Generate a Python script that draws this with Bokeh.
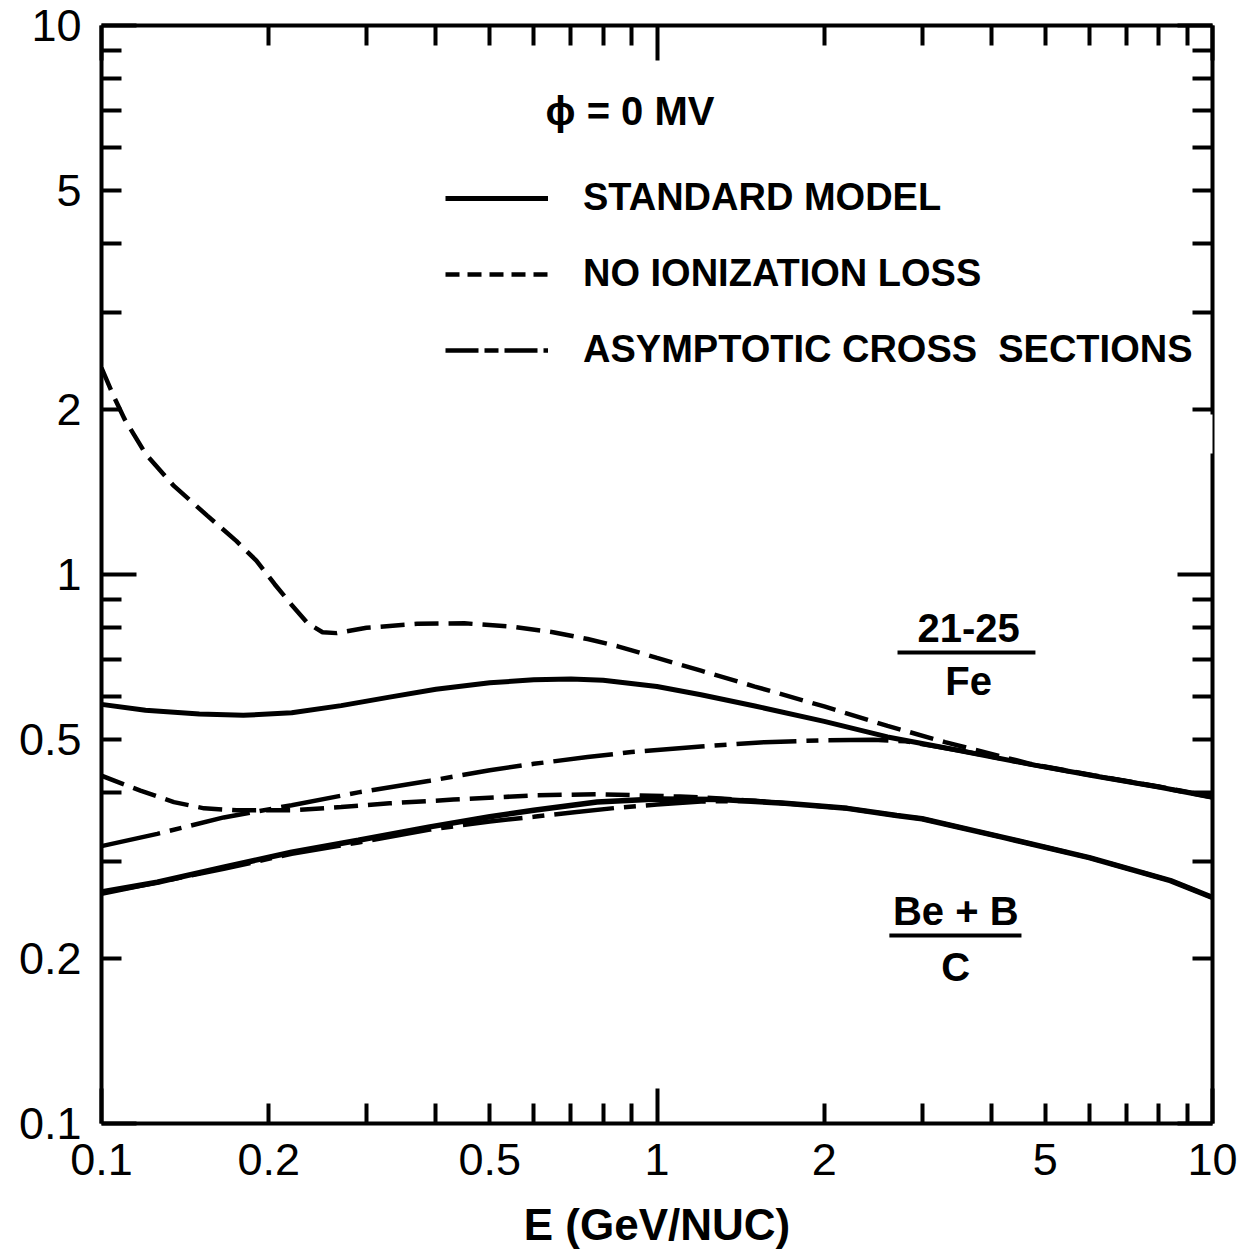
from bokeh.plotting import figure
from bokeh.models import (Range1d, LogAxis, FixedTicker, CustomJSTickFormatter, Label,
                          Legend, LegendItem, BoxAnnotation)
from bokeh.embed import file_html
from bokeh.resources import INLINE

# ---------------- data ----------------
# 21-25 / Fe
FE_STD_E = [0.1, 0.12, 0.15, 0.18, 0.22, 0.27, 0.33, 0.40, 0.50, 0.60, 0.70, 0.80,
            1.0, 1.2, 1.5, 2.0, 2.6, 3.5, 4.7, 6.1, 8.0, 10.0]
FE_STD_R = [0.580, 0.566, 0.557, 0.554, 0.560, 0.577, 0.598, 0.618, 0.635, 0.643, 0.645, 0.642,
            0.625, 0.604, 0.576, 0.540, 0.506, 0.478, 0.451, 0.430, 0.410, 0.393]

FE_NOION_E = [0.1, 0.105, 0.11, 0.12, 0.135, 0.155, 0.175, 0.19, 0.205, 0.22, 0.235, 0.25,
              0.265, 0.30, 0.37, 0.45, 0.55, 0.65, 0.75, 0.85, 1.0, 1.2, 1.5, 2.0, 2.6, 3.3,
              4.7, 6.1, 8.0, 10.0]
FE_NOION_R = [2.38, 2.12, 1.92, 1.66, 1.45, 1.28, 1.15, 1.06, 0.96, 0.88, 0.815, 0.785,
              0.782, 0.800, 0.813, 0.815, 0.803, 0.785, 0.763, 0.740, 0.705, 0.668, 0.625, 0.575, 0.530, 0.495,
              0.452, 0.431, 0.411, 0.394]

FE_ASYM_E = [0.1, 0.126, 0.166, 0.22, 0.29, 0.39, 0.5, 0.6, 0.75, 0.9, 1.2, 1.56, 2.0, 2.45, 2.8,
             3.5, 4.7, 6.1, 8.0, 10.0]
FE_ASYM_R = [0.320, 0.337, 0.361, 0.380, 0.401, 0.421, 0.440, 0.452, 0.465, 0.475, 0.486, 0.495, 0.499, 0.500, 0.497,
             0.478, 0.451, 0.430, 0.410, 0.393]

# Be+B / C
BC_STD_E = [0.1, 0.126, 0.166, 0.22, 0.29, 0.39, 0.5, 0.6, 0.78, 1.0, 1.3, 1.7, 2.2, 2.7, 3.0,
            4.2, 6.0, 8.4, 10.0]
BC_STD_R = [0.264, 0.275, 0.293, 0.312, 0.328, 0.347, 0.362, 0.372, 0.385, 0.390, 0.389, 0.383, 0.375, 0.364, 0.359,
            0.332, 0.305, 0.277, 0.258]

BC_NOION_E = [0.1, 0.1175, 0.135, 0.153, 0.175, 0.22, 0.27, 0.33, 0.43, 0.6, 0.78, 1.1, 1.3,
              1.7, 2.2, 2.7, 3.0, 4.2, 6.0, 8.4, 10.0]
BC_NOION_R = [0.430, 0.404, 0.385, 0.375, 0.372, 0.372, 0.377, 0.383, 0.389, 0.396, 0.398, 0.394, 0.391,
              0.383, 0.375, 0.364, 0.359, 0.332, 0.305, 0.277, 0.258]

BC_ASYM_E = [0.1, 0.166, 0.22, 0.29, 0.39, 0.5, 0.6, 0.71, 0.85, 1.0, 1.2, 1.5, 1.7]
BC_ASYM_R = [0.262, 0.291, 0.310, 0.325, 0.343, 0.355, 0.362, 0.369, 0.376, 0.381, 0.386, 0.387, 0.383]

TICK_LABELS = [0.1, 0.2, 0.5, 1, 2, 5, 10]
DECADES = [0.1, 1, 10]
MINOR_TICKS = [0.2, 0.3, 0.4, 0.5, 0.6, 0.7, 0.8, 0.9, 2, 3, 4, 5, 6, 7, 8, 9]

LEGEND_LABELS = ["STANDARD MODEL", "NO IONIZATION LOSS", "ASYMPTOTIC CROSS  SECTIONS"]
PHI_TEXT = "ϕ = 0 MV"
X_TITLE = "E (GeV/NUC)"

# annotation placement (data coordinates)
FE_LABEL = dict(num="21-25", den="Fe", x=3.64, y_num=0.80, y_den=0.641, bar_x=(2.71, 4.80), bar_y=0.721)
BC_LABEL = dict(num="Be + B", den="C", x=3.45, y_num=0.244, y_den=0.193, bar_x=(2.62, 4.53), bar_y=0.220)
PHI_POS = (0.63, 7.0)

DASH = "24 10"
DASHDOT = "60 10 12 10"

FONT = "Liberation Sans"

# ---------------- figure ----------------
p = figure(frame_width=1111, frame_height=1098,
           x_axis_type="log", y_axis_type="log",
           x_range=Range1d(0.1, 10), y_range=Range1d(0.1, 10),
           output_backend="svg", toolbar_location=None,
           min_border_left=101, min_border_right=26, min_border_top=25, min_border_bottom=136)
p.outline_line_color = None
p.xgrid.visible = False
p.ygrid.visible = False
p.background_fill_color = "white"
p.border_fill_color = "white"

blank_fmt = CustomJSTickFormatter(code="return '';")


def tick_axis(ax):
    ax.ticker = FixedTicker(ticks=DECADES, minor_ticks=MINOR_TICKS)
    ax.formatter = blank_fmt
    ax.major_tick_in = 35
    ax.major_tick_out = 0
    ax.minor_tick_in = 20
    ax.minor_tick_out = 0
    ax.major_tick_line_width = 4
    ax.minor_tick_line_width = 4
    ax.major_tick_line_color = "black"
    ax.minor_tick_line_color = "black"
    ax.axis_line_width = 4
    ax.axis_line_color = "black"
    ax.major_label_text_font_size = "1px"
    ax.major_label_text_alpha = 0
    ax.major_label_standoff = 0
    ax.axis_label = None


tick_axis(p.xaxis[0])
tick_axis(p.yaxis[0])
top_ax = LogAxis()
right_ax = LogAxis()
tick_axis(top_ax)
tick_axis(right_ax)
p.add_layout(top_ax, "above")
p.add_layout(right_ax, "right")

fmt = CustomJSTickFormatter(code="return String(tick);")


def label_axis(standoff):
    ax = LogAxis(ticker=FixedTicker(ticks=TICK_LABELS, minor_ticks=[]), formatter=fmt)
    ax.axis_line_color = None
    ax.major_tick_line_color = None
    ax.minor_tick_line_color = None
    ax.major_tick_in = 0
    ax.major_tick_out = 0
    ax.minor_tick_in = 0
    ax.minor_tick_out = 0
    ax.major_label_text_font = FONT
    ax.major_label_text_font_size = "45px"
    ax.major_label_text_color = "black"
    ax.major_label_standoff = standoff
    return ax


xlab = label_axis(20)
xlab.axis_label = X_TITLE
xlab.axis_label_text_font = FONT
xlab.axis_label_text_font_style = "bold"
xlab.axis_label_text_font_size = "44px"
xlab.axis_label_text_color = "black"
xlab.axis_label_standoff = 22
p.add_layout(xlab, "below")

ylab = label_axis(20)
p.add_layout(ylab, "left")

# ---------------- curves ----------------
LW = 5
p.line(BC_ASYM_E, BC_ASYM_R, line_color="black", line_width=4.5, line_dash=DASHDOT)
p.line(BC_NOION_E, BC_NOION_R, line_color="black", line_width=4.5, line_dash=DASH)
p.line(BC_STD_E, BC_STD_R, line_color="black", line_width=5.5)

p.line(FE_ASYM_E, FE_ASYM_R, line_color="black", line_width=4.5, line_dash=DASHDOT)
p.line(FE_NOION_E, FE_NOION_R, line_color="black", line_width=4.5, line_dash=DASH)
p.line(FE_STD_E, FE_STD_R, line_color="black", line_width=LW)

# legend-only renderers: a single point draws nothing on the plot,
# but gives the key its sample line style
r_solid = p.line(x=FE_STD_E[:1], y=FE_STD_R[:1], line_color="black", line_width=5)
r_dash = p.line(x=FE_STD_E[:1], y=FE_STD_R[:1], line_color="black", line_width=4.5, line_dash="14 8")
r_dashdot = p.line(x=FE_STD_E[:1], y=FE_STD_R[:1], line_color="black", line_width=4.5, line_dash="33 6 14 6")

legend = Legend(items=[LegendItem(label=LEGEND_LABELS[0], renderers=[r_solid]),
                       LegendItem(label=LEGEND_LABELS[1], renderers=[r_dash]),
                       LegendItem(label=LEGEND_LABELS[2], renderers=[r_dashdot])],
                location=(344, 752))
legend.background_fill_alpha = 0
legend.border_line_alpha = 0
legend.padding = 0
legend.margin = 0
legend.spacing = 33
legend.glyph_width = 103
legend.glyph_height = 20
legend.label_standoff = 35
legend.label_text_font = FONT
legend.label_text_font_style = "bold"
legend.label_text_font_size = "38px"
legend.label_text_color = "black"
p.add_layout(legend)

# ---------------- annotations ----------------
def txt(x, y, t, size="40px", align="center"):
    p.add_layout(Label(x=x, y=y, text=t, text_font=FONT, text_font_style="bold",
                       text_font_size=size, text_align=align, text_baseline="middle",
                       text_color="black"))


txt(PHI_POS[0], PHI_POS[1], PHI_TEXT, size="40px", align="left")

for lab in (FE_LABEL, BC_LABEL):
    txt(lab["x"], lab["y_num"], lab["num"])
    txt(lab["x"], lab["y_den"], lab["den"])
    p.segment(x0=[lab["bar_x"][0]], x1=[lab["bar_x"][1]], y0=[lab["bar_y"]], y1=[lab["bar_y"]],
              line_color="black", line_width=4)

# break in the right frame line, as in the scanned original
p.add_layout(BoxAnnotation(left=1204, right=1224, top=414, bottom=453,
                           left_units="canvas", right_units="canvas",
                           top_units="canvas", bottom_units="canvas",
                           fill_color="white", fill_alpha=1.0, line_alpha=0, level="overlay"))

open("out.html", "w").write(file_html(p, INLINE))
